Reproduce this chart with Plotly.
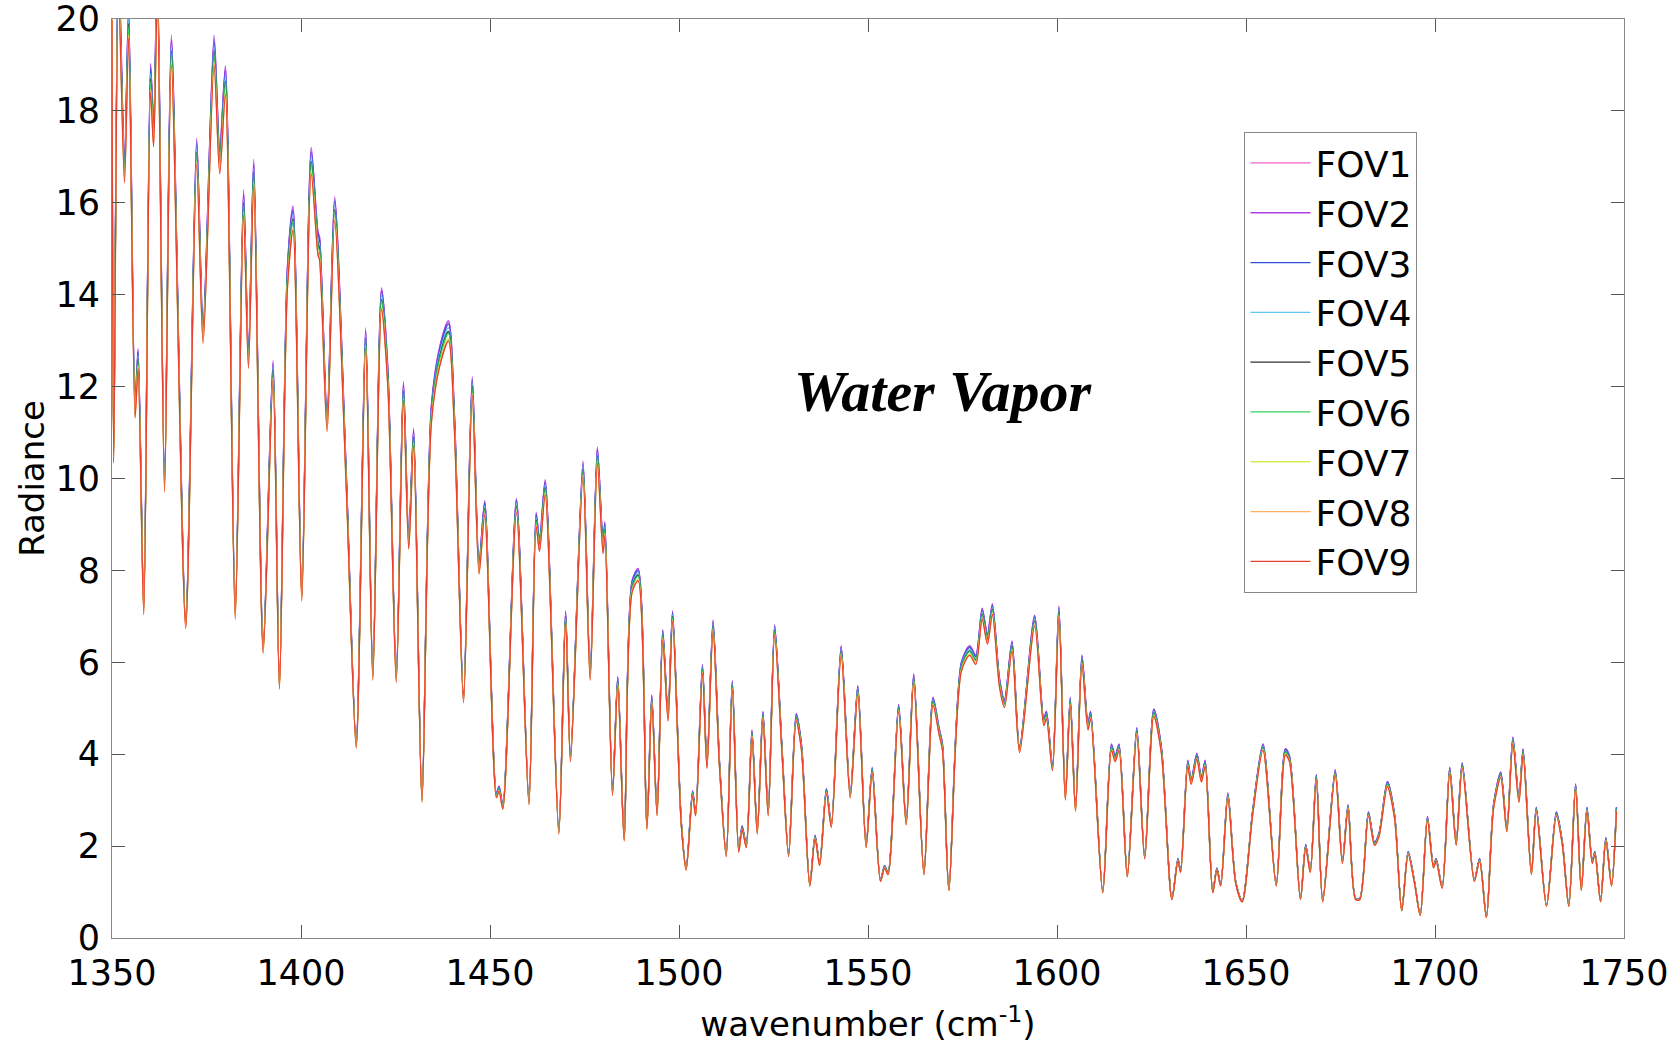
import plotly.graph_objects as go

# Base spectrum (wavenumber cm^-1, radiance)
wavenumber = [
    1350.0, 1350.45, 1351.7, 1353.3, 1354.4, 1356.1, 1356.9, 1358.4, 1360.2, 1361.0,
    1362.0, 1363.9, 1365.7, 1369.5, 1372.4, 1374.1, 1377.0, 1378.5, 1380.0, 1382.6,
    1384.8, 1386.1, 1387.5, 1390.0, 1392.6, 1394.3, 1396.4, 1397.9, 1400.2, 1402.7,
    1404.5, 1404.9, 1406.9, 1408.9, 1412.0, 1414.6, 1417.1, 1419.0, 1421.3, 1423.0,
    1425.2, 1427.1, 1428.5, 1429.8, 1432.0, 1434.5, 1436.7, 1439.0, 1440.6, 1443.0,
    1445.3, 1447.1, 1448.6, 1451.7, 1452.4, 1453.4, 1457.0, 1460.3, 1462.2, 1463.1,
    1464.6, 1468.2, 1470.0, 1471.3, 1474.6, 1476.5, 1478.4, 1479.9, 1480.4, 1482.4,
    1483.8, 1485.5, 1487.6, 1489.2, 1491.5, 1492.8, 1494.2, 1495.7, 1497.1, 1498.3,
    1500.6, 1501.9, 1503.6, 1504.4, 1506.2, 1507.4, 1509.0, 1510.7, 1512.5, 1514.1,
    1515.8, 1516.7, 1517.8, 1519.3, 1520.7, 1522.2, 1523.6, 1525.3, 1527.3, 1529.0,
    1531.0, 1532.4, 1534.6, 1536.0, 1537.2, 1539.0, 1540.3, 1542.9, 1545.3, 1547.3,
    1549.5, 1551.1, 1553.3, 1554.4, 1555.3, 1558.1, 1560.1, 1562.1, 1564.8, 1567.2,
    1568.8, 1569.7, 1571.4, 1574.7, 1576.9, 1578.5, 1580.2, 1581.6, 1582.9, 1584.8,
    1586.1, 1588.1, 1590.1, 1594.1, 1596.5, 1597.2, 1598.8, 1600.5, 1602.2, 1603.5,
    1604.9, 1606.6, 1608.2, 1608.9, 1612.1, 1614.4, 1615.4, 1616.4, 1618.6, 1621.1,
    1623.2, 1625.6, 1627.6, 1630.4, 1632.0, 1632.7, 1634.6, 1635.5, 1637.0, 1638.2,
    1639.2, 1641.2, 1642.3, 1643.3, 1645.2, 1647.3, 1649.0, 1651.8, 1654.5, 1658.0,
    1660.4, 1661.5, 1664.4, 1665.8, 1667.0, 1668.6, 1670.3, 1673.6, 1675.5, 1677.0,
    1679.0, 1680.1, 1682.4, 1684.0, 1685.2, 1687.4, 1689.3, 1691.2, 1692.9, 1694.6,
    1696.1, 1698.0, 1699.6, 1700.3, 1701.9, 1703.9, 1705.6, 1707.2, 1710.4, 1711.8,
    1713.6, 1715.5, 1717.4, 1719.0, 1720.6, 1722.2, 1723.3, 1725.5, 1726.8, 1729.5,
    1732.1, 1733.7, 1735.4, 1737.2, 1738.7, 1740.2, 1741.6, 1742.3, 1743.8, 1745.2,
    1746.7, 1748.0,
]
radiance = [
    20.3, 10.5, 21.0, 16.7, 19.9, 11.5, 12.6, 7.15, 18.7, 17.5,
    20.8, 9.85, 19.3, 6.85, 17.1, 13.15, 19.3, 16.9, 18.65, 7.05,
    16.0, 12.6, 16.65, 6.3, 12.35, 5.5, 14.35, 15.65, 7.45, 16.9,
    15.1, 15.0, 11.2, 15.85, 9.9, 4.2, 13.05, 5.7, 13.9, 12.15,
    5.65, 11.9, 8.6, 10.9, 3.0, 11.4, 12.65, 13.2, 11.2, 5.2,
    12.0, 8.05, 9.35, 3.1, 3.25, 2.85, 9.4, 2.95, 9.1, 8.55,
    9.8, 2.3, 7.0, 3.9, 10.2, 5.7, 10.5, 8.5, 8.9, 3.15,
    5.6, 2.15, 7.65, 7.9, 2.4, 5.2, 2.7, 6.6, 4.8, 7.0,
    2.5, 1.5, 3.15, 2.7, 5.85, 3.75, 6.8, 3.8, 1.8, 5.5,
    1.9, 2.4, 2.0, 4.45, 2.3, 4.85, 2.7, 6.7, 4.0, 1.8,
    4.8, 4.15, 1.15, 2.2, 1.6, 3.2, 2.45, 6.25, 3.1, 5.4,
    2.0, 3.65, 1.25, 1.55, 1.4, 5.0, 2.5, 5.65, 1.4, 5.15,
    4.5, 4.15, 1.05, 5.9, 6.25, 6.05, 7.05, 6.5, 7.15, 5.55,
    5.1, 6.35, 4.1, 6.9, 4.7, 4.85, 3.7, 7.1, 3.05, 5.15,
    2.8, 6.05, 4.6, 4.85, 1.0, 4.15, 3.9, 4.15, 1.35, 4.5,
    1.75, 4.9, 4.1, 0.85, 1.7, 1.45, 3.8, 3.4, 3.95, 3.45,
    3.8, 1.0, 1.5, 1.15, 3.1, 1.2, 0.8, 2.75, 4.15, 1.15,
    4.05, 3.9, 0.85, 2.0, 1.45, 3.5, 0.8, 3.6, 1.65, 2.85,
    0.85, 0.85, 2.7, 2.05, 2.25, 3.35, 2.65, 0.6, 1.85, 1.2,
    0.5, 2.6, 1.55, 1.7, 1.1, 3.65, 2.05, 3.75, 1.25, 1.7,
    0.45, 2.87, 3.55, 2.35, 4.3, 3.0, 4.05, 1.4, 2.8, 0.7,
    2.7, 2.05, 0.7, 3.3, 1.05, 2.8, 1.65, 1.85, 0.8, 2.15,
    1.15, 2.8,
]

fov_names = ["FOV1", "FOV2", "FOV3", "FOV4", "FOV5", "FOV6", "FOV7", "FOV8", "FOV9"]
fov_gain = [1.015, 1.018, 1.012, 1.006, 1.0, 0.997, 0.988, 0.986, 0.984]
fov_colors = ["#f060d0", "#b040e8", "#3050d8", "#60c8f0", "#303030",
              "#30d060", "#d8ec50", "#ffb060", "#e84030"]

x_ticks = [1350, 1400, 1450, 1500, 1550, 1600, 1650, 1700, 1750]
y_ticks = [0, 2, 4, 6, 8, 10, 12, 14, 16, 18, 20]

FONT = "DejaVu Sans"

fig = go.Figure()
for i, name in enumerate(fov_names):
    fig.add_trace(go.Scatter(
        x=wavenumber,
        y=[v * fov_gain[i] for v in radiance],
        mode="lines",
        name=name,
        legendgroup=name,
        line=dict(color=fov_colors[i], width=1.3, shape="spline", smoothing=0.8),
    ))

axis_common = dict(
    showgrid=False, zeroline=False, showline=True, linecolor="#888888", linewidth=1,
    mirror="ticks", ticks="inside", ticklen=13, tickcolor="#555555", tickwidth=1,
    tickfont=dict(family=FONT, size=35, color="black"),
    ticklabeloverflow="allow", automargin=False,
)

fig.update_layout(
    width=1679, height=1044,
    paper_bgcolor="white", plot_bgcolor="white",
    margin=dict(l=112, r=55, t=19, b=106, autoexpand=False),
    showlegend=True,
    legend=dict(
        x=0.749, y=0.877, xanchor="left", yanchor="top",
        bgcolor="white", bordercolor="#888888", borderwidth=1,
        font=dict(family=FONT, size=36, color="black"),
        tracegroupgap=0, itemwidth=60,
    ),
    xaxis=dict(range=[1350, 1750], tickvals=x_ticks, ticktext=[str(t) for t in x_ticks],
               title=dict(text="wavenumber (cm<sup>-1</sup>)", standoff=21,
                          font=dict(family=FONT, size=34, color="black")),
               ticklabelstandoff=4, **axis_common),
    yaxis=dict(range=[0, 20.001], tickvals=y_ticks, ticktext=[str(t) for t in y_ticks],
               title=dict(text="Radiance", standoff=0,
                          font=dict(family=FONT, size=34, color="black")),
               ticklabelstandoff=4, **axis_common),
    annotations=[dict(
        text="<b><i>Water Vapor</i></b>", x=0.549, y=0.595, xref="paper", yref="paper",
        showarrow=False, font=dict(family="Liberation Serif", size=58, color="black"),
    )],
)

fig.write_html("out.html")
